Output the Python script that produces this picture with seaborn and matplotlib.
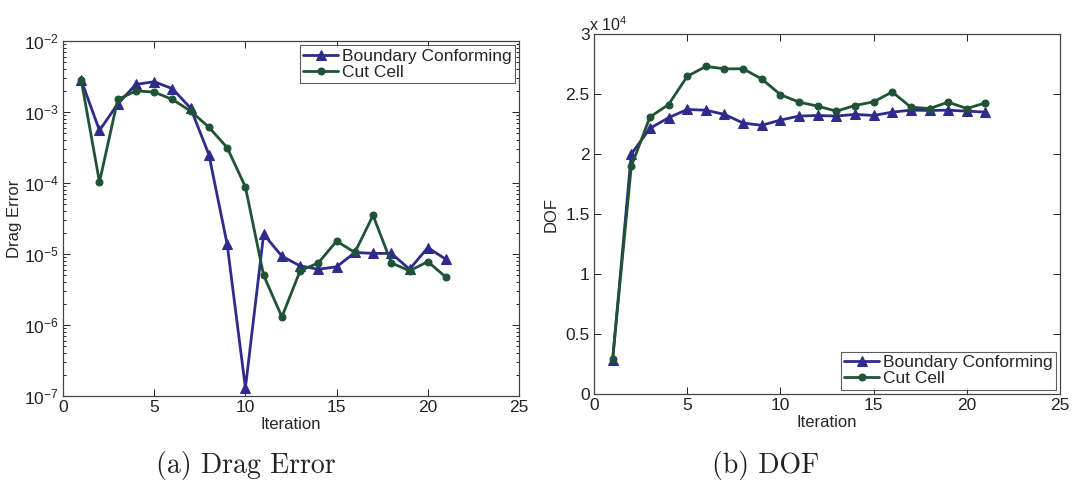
import numpy as np
import pandas as pd
import matplotlib
matplotlib.use("Agg")
import matplotlib.pyplot as plt
from matplotlib.ticker import LogLocator, MultipleLocator, NullFormatter
import seaborn as sns

iterations = list(range(1, 22))

drag_boundary = [2.8e-3, 5.5e-4, 1.3e-3, 2.45e-3, 2.67e-3, 2.13e-3, 1.13e-3, 2.5e-4,
                 1.37e-5, 1.3e-7, 1.9e-5, 9.3e-6, 6.8e-6, 6.1e-6, 6.6e-6, 1.05e-5,
                 1.02e-5, 1.02e-5, 6.1e-6, 1.23e-5, 8.4e-6]
drag_cutcell = [2.8e-3, 1.03e-4, 1.5e-3, 1.98e-3, 1.91e-3, 1.5e-3, 1.03e-3, 6.1e-4,
                3.15e-4, 8.8e-5, 5.0e-6, 1.3e-6, 5.8e-6, 7.5e-6, 1.52e-5, 1.05e-5,
                3.5e-5, 7.5e-6, 5.8e-6, 7.8e-6, 4.7e-6]

dof_boundary = [2840, 19990, 22140, 23020, 23710, 23650, 23300, 22580, 22390, 22830,
                23160, 23210, 23160, 23300, 23210, 23490, 23650, 23630, 23650, 23570,
                23490]
dof_cutcell = [2950, 18970, 23080, 24120, 26470, 27300, 27100, 27100, 26250, 24950,
               24320, 23990, 23570, 24040, 24350, 25170, 23900, 23790, 24320, 23790,
               24260]

series_names = ["Boundary Conforming", "Cut Cell"]
colors = {"Boundary Conforming": "#2e2b8c", "Cut Cell": "#1f5336"}
markers = {"Boundary Conforming": "^", "Cut Cell": "o"}

drag_df = pd.DataFrame({
    "Iteration": iterations * 2,
    "value": drag_boundary + drag_cutcell,
    "Method": [series_names[0]] * 21 + [series_names[1]] * 21,
})
dof_df = pd.DataFrame({
    "Iteration": iterations * 2,
    "value": dof_boundary + dof_cutcell,
    "Method": [series_names[0]] * 21 + [series_names[1]] * 21,
})

sns.set_style("ticks")
plt.rcParams["font.family"] = ["Liberation Sans", "DejaVu Sans"]
plt.rcParams["axes.linewidth"] = 0.9
plt.rcParams["axes.edgecolor"] = "#333333"
plt.rcParams["mathtext.fontset"] = "custom"
plt.rcParams["mathtext.rm"] = "Liberation Sans"

fig = plt.figure(figsize=(10.73, 4.87), dpi=100)
W, H = 1073, 487
ax1 = fig.add_axes([63 / W, 1 - 396 / H, 456 / W, 355 / H])
ax2 = fig.add_axes([594 / W, 1 - 394 / H, 466 / W, 360 / H])


def draw(ax, df):
    for name in series_names:
        sub = df[df["Method"] == name]
        sns.lineplot(data=sub, x="Iteration", y="value", ax=ax, color=colors[name],
                     marker=markers[name], markersize=7.5 if name == series_names[0] else 5,
                     markeredgecolor=colors[name], linewidth=2.0, label=name,
                     estimator=None, sort=False)


def style(ax):
    ax.tick_params(which="both", direction="in", top=True, right=True,
                   labelsize=12.5, colors="#222222", width=0.7, pad=3)
    ax.tick_params(which="major", length=5)
    ax.tick_params(which="minor", length=2.5)
    for s in ax.spines.values():
        s.set_visible(True)
        s.set_color("#444444")
    ax.set_xlim(0, 25)
    ax.xaxis.set_major_locator(MultipleLocator(5))
    ax.set_xlabel("Iteration", fontsize=12, labelpad=1)


def legend(ax, loc):
    leg = ax.legend(loc=loc, fontsize=12.5, frameon=True, fancybox=False,
                    borderpad=0.2, labelspacing=0.05, handlelength=2.0,
                    handletextpad=0.2, borderaxespad=0.25)
    leg.get_frame().set_edgecolor("#333333")
    leg.get_frame().set_linewidth(0.8)


# Drag error panel
draw(ax1, drag_df)
ax1.set_yscale("log")
ax1.set_ylim(1e-7, 1e-2)
ax1.yaxis.set_major_locator(LogLocator(base=10, numticks=10))
ax1.yaxis.set_minor_locator(LogLocator(base=10, subs=np.arange(2, 10), numticks=20))
ax1.yaxis.set_minor_formatter(NullFormatter())
style(ax1)
ax1.set_ylabel("Drag Error", fontsize=12, labelpad=1)
legend(ax1, "upper right")

# DOF panel
draw(ax2, dof_df)
ax2.set_ylim(0, 30000)
ax2.set_yticks([0, 5000, 10000, 15000, 20000, 25000, 30000])
ax2.set_yticklabels(["0", "0.5", "1", "1.5", "2", "2.5", "3"])
style(ax2)
ax2.set_ylabel("DOF", fontsize=12, labelpad=5)
ax2.text(-0.01, 1.0, r"x 10$^{4}$", transform=ax2.transAxes, fontsize=11.5,
         ha="left", va="bottom", color="#222222")
legend(ax2, "lower right")

# Sub-figure captions
fig.text(246 / W, 1 - 466 / H, "(a) Drag Error", family="cmr10",
         fontsize=20, ha="center", va="center", color="#222222")
fig.text(766 / W, 1 - 466 / H, "(b) DOF", family="cmr10",
         fontsize=20, ha="center", va="center", color="#222222")

fig.savefig("out.png", dpi=100)
